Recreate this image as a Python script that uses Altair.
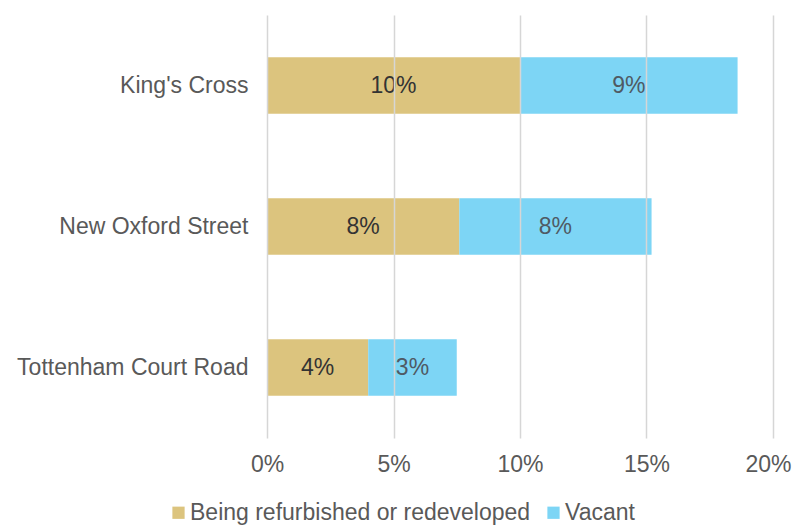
import altair as alt
import pandas as pd

areas = ["King's Cross", "New Oxford Street", "Tottenham Court Road"]
series = ["Being refurbished or redeveloped", "Vacant"]
refurbished = [0.100, 0.076, 0.040]
vacant = [0.086, 0.076, 0.035]
refurbished_labels = ["10%", "8%", "4%"]
vacant_labels = ["9%", "8%", "3%"]
tick_values = [0, 0.05, 0.10, 0.15, 0.20]
colors = ["#DCC47E", "#7DD5F5"]
label_colors = ["#333333", "#4f5a64"]

rows = []
for i, a in enumerate(areas):
    rows.append({"area": a, "series": series[0], "order": 0,
                 "value": refurbished[i], "label": refurbished_labels[i]})
    rows.append({"area": a, "series": series[1], "order": 1,
                 "value": vacant[i], "label": vacant_labels[i]})
df = pd.DataFrame(rows)

font = "Liberation Sans"

base = alt.Chart(df).transform_stack(
    stack="value", groupby=["area"], sort=[alt.SortField("order")], as_=["x0", "x1"]
).transform_calculate(mid="(datum.x0 + datum.x1) / 2")

y_enc = alt.Y(
    "area:N",
    sort=areas,
    title=None,
    scale=alt.Scale(paddingInner=0.6, paddingOuter=0.3),
    axis=alt.Axis(domain=False, ticks=False, grid=False, labelFont=font,
                  labelFontSize=23, labelColor="#595959", labelPadding=19,
                  labelLimit=400),
)

bars = base.mark_bar().encode(
    x=alt.X("x0:Q", title=None,
            scale=alt.Scale(domain=[0, 0.2], nice=False),
            axis=alt.Axis(values=tick_values, format=".0%", domain=False, ticks=False,
                          grid=True, gridColor="#d6d6d6", gridWidth=1.5, zindex=1,
                          labelFont=font, labelFontSize=23, labelColor="#595959",
                          labelPadding=15, labelFlush=False,
                          labelAlign=alt.expr("datum.value >= 0.2 ? 'right' : 'center'"),
                          labelOffset=alt.expr("datum.value >= 0.2 ? 18 : 0"))),
    x2="x1:Q",
    y=y_enc,
    color=alt.Color("series:N", scale=alt.Scale(domain=series, range=colors),
                    legend=alt.Legend(title=None, orient="none", direction="horizontal",
                                      legendX=-100, legendY=486, symbolType="square",
                                      symbolSize=150, symbolStrokeWidth=0,
                                      labelFont=font, labelFontSize=23,
                                      labelColor="#595959", labelOffset=0,
                                      columnPadding=11, labelLimit=500)),
)

text = base.mark_text(font=font, fontSize=23).encode(
    x=alt.X("mid:Q"),
    y=alt.Y("area:N", sort=areas),
    text="label:N",
    color=alt.Color("series:N", scale=None, legend=None),
).transform_calculate(
    labelcolor=f"datum.order == 0 ? '{label_colors[0]}' : '{label_colors[1]}'"
).encode(color=alt.Color("labelcolor:N", scale=None, legend=None))

chart = alt.layer(bars, text).properties(
    width=506, height=423,
    autosize=alt.AutoSizeParams(type="none"),
    padding={"left": 259, "top": 7, "right": 19, "bottom": 89},
).configure_view(stroke=None)

chart.save("out.html", embed_options={"renderer": "svg", "actions": False})
